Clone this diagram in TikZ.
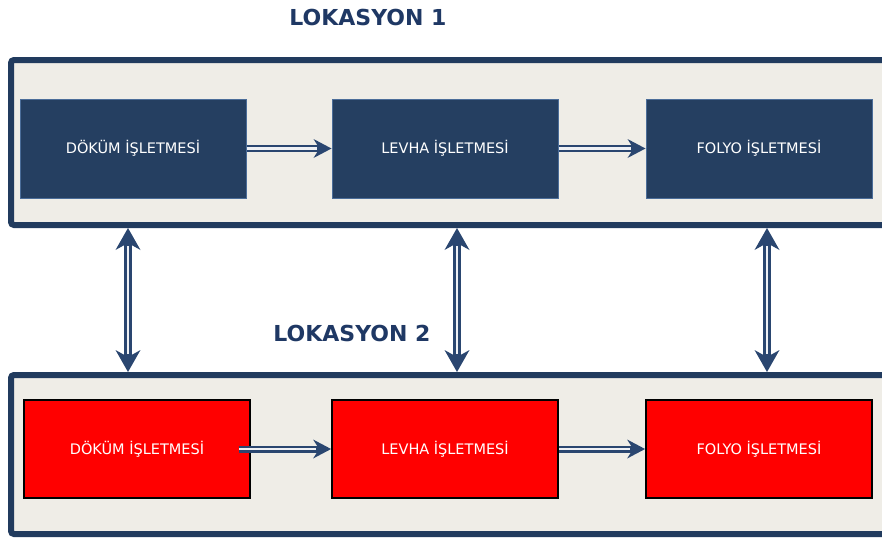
\documentclass[tikz,border=0pt]{standalone}
\usepackage{fontspec}
\setmainfont{DejaVu Sans}
\usetikzlibrary{arrows.meta}
\definecolor{navy}{HTML}{1F3864}
\definecolor{frameblue}{HTML}{213B5E}
\definecolor{panel}{HTML}{EFEDE7}
\definecolor{boxblue}{HTML}{253F61}
\definecolor{boxedge}{HTML}{4B6D99}
\definecolor{arrowblue}{HTML}{2A4670}
\definecolor{boxred}{HTML}{FF0000}
\tikzset{
  container/.style={draw=frameblue, fill=panel, line width=6pt, rounded corners=3pt},
  bluebox/.style={rectangle, draw=boxedge, fill=boxblue, line width=1pt, text=white,
    font=\fontsize{14.5}{17}\selectfont, inner sep=0pt},
  redbox/.style={rectangle, draw=black, fill=boxred, line width=1.8pt, text=white,
    font=\fontsize{14.5}{17}\selectfont, inner sep=0pt},
  title/.style={text=navy, font=\fontsize{22}{25}\selectfont\bfseries},
  % hollow double shaft: a solid blue line with its arrow head, then a pale core
  flow/.style={draw=arrowblue, line width=7pt,
    -{Stealth[length=18pt,width=19pt,inset=6pt,line width=0pt]}},
  flowcore/.style={draw=white!92!arrowblue, line width=2.4pt, shorten >=15pt},
  link/.style={draw=arrowblue, line width=8pt,
    {Stealth[length=22pt,width=25pt,inset=7pt,line width=0pt]}-{Stealth[length=22pt,width=25pt,inset=7pt,line width=0pt]}},
  linkcore/.style={draw=white!92!arrowblue, line width=2.8pt, shorten >=18pt, shorten <=18pt}
}
\begin{document}
\begin{tikzpicture}[x=1pt,y=-1pt]
  \useasboundingbox (0,0) rectangle (882,539);
  \clip (0,0) rectangle (882,539);

  % location panels
  \draw[container] (11,60) rectangle (905,225);
  \draw[container] (11,375) rectangle (905,534);

  % titles
  \node[title] (loc1) at (368,17) {LOKASYON 1};
  \node[title] (loc2) at (352,333) {LOKASYON 2};

  % location 1 units
  \node[bluebox, minimum width=226pt, minimum height=99pt] (a1) at (133,148.5) {DÖKÜM İŞLETMESİ};
  \node[bluebox, minimum width=226pt, minimum height=99pt] (a2) at (445,148.5) {LEVHA İŞLETMESİ};
  \node[bluebox, minimum width=226pt, minimum height=99pt] (a3) at (759,148.5) {FOLYO İŞLETMESİ};

  % location 2 units
  \node[redbox, minimum width=226pt, minimum height=98pt] (b1) at (137,449) {DÖKÜM İŞLETMESİ};
  \node[redbox, minimum width=226pt, minimum height=98pt] (b2) at (445,449) {LEVHA İŞLETMESİ};
  \node[redbox, minimum width=226pt, minimum height=98pt] (b3) at (759,449) {FOLYO İŞLETMESİ};

  % process flow within each location
  \draw[flow] (a1.east) -- (a2.west);
  \draw[flowcore] (a1.east) -- (a2.west);
  \draw[flow] (a2.east) -- (a3.west);
  \draw[flowcore] (a2.east) -- (a3.west);
  \draw[flow] ([xshift=-12pt]b1.east) -- (b2.west);
  \draw[flowcore] ([xshift=-12pt]b1.east) -- (b2.west);
  \draw[flow] (b2.east) -- (b3.west);
  \draw[flowcore] (b2.east) -- (b3.west);

  % links between the two locations
  \coordinate (u1) at (128,228);  \coordinate (d1) at (128,372);
  \coordinate (u2) at (457,228);  \coordinate (d2) at (457,372);
  \coordinate (u3) at (767,228);  \coordinate (d3) at (767,372);
  \draw[link] (u1) -- (d1);
  \draw[linkcore] (u1) -- (d1);
  \draw[link] (u2) -- (d2);
  \draw[linkcore] (u2) -- (d2);
  \draw[link] (u3) -- (d3);
  \draw[linkcore] (u3) -- (d3);
\end{tikzpicture}
\end{document}
